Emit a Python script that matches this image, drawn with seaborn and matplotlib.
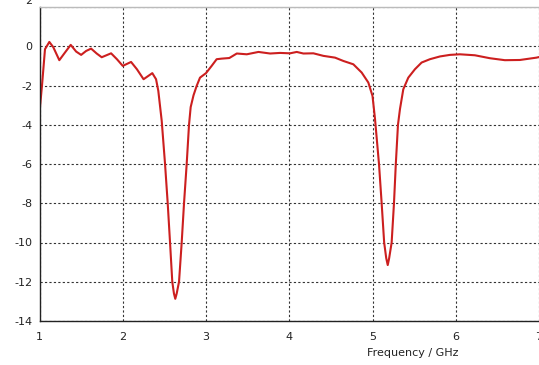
import matplotlib
matplotlib.use("Agg")
import matplotlib.pyplot as plt
import matplotlib.transforms as mtransforms
import seaborn as sns
import pandas as pd

freq_ghz = [1.00, 1.03, 1.066, 1.118, 1.166, 1.238, 1.306, 1.375, 1.44, 1.50, 1.56, 1.62,
            1.687, 1.747, 1.86, 1.93, 2.00, 2.10, 2.17, 2.25, 2.355, 2.40, 2.427, 2.468,
            2.508, 2.54, 2.568, 2.595, 2.615, 2.631, 2.648, 2.676, 2.708, 2.736, 2.768,
            2.796, 2.816, 2.85, 2.888, 2.928, 3.00, 3.068, 3.128, 3.19, 3.28, 3.37, 3.49,
            3.63, 3.77, 3.89, 4.01, 4.09, 4.17, 4.29, 4.41, 4.55, 4.65, 4.77, 4.87, 4.95,
            5.00, 5.03, 5.078, 5.11, 5.14, 5.165, 5.183, 5.20, 5.23, 5.258, 5.28, 5.306,
            5.33, 5.37, 5.43, 5.51, 5.59, 5.69, 5.81, 5.93, 6.05, 6.23, 6.41, 6.59, 6.77,
            6.97, 7.00]
s11_db = [-3.37, -2.0, -0.15, 0.22, -0.05, -0.71, -0.32, 0.07, -0.27, -0.44, -0.24, -0.12,
          -0.37, -0.56, -0.36, -0.66, -1.0, -0.8, -1.17, -1.68, -1.37, -1.68, -2.27, -3.8,
          -6.0, -8.0, -10.0, -12.0, -12.6, -12.87, -12.6, -12.0, -10.0, -8.0, -6.0,
          -4.0, -3.1, -2.5, -2.02, -1.6, -1.37, -1.0, -0.66, -0.63, -0.6, -0.37, -0.41,
          -0.29, -0.37, -0.34, -0.36, -0.29, -0.37, -0.36, -0.49, -0.58, -0.75, -0.92, -1.34,
          -1.85, -2.53, -3.7, -6.0, -8.0, -10.0, -10.8, -11.15, -10.8, -10.0, -8.0, -6.0,
          -4.0, -3.2, -2.19, -1.6, -1.17, -0.83, -0.66, -0.52, -0.44, -0.41, -0.46, -0.61,
          -0.71, -0.70, -0.58, -0.55]

x_ticks = [1, 2, 3, 4, 5, 6, 7]
y_ticks = [-14, -12, -10, -8, -6, -4, -2, 0, 2]

df = pd.DataFrame({"Frequency / GHz": freq_ghz, "S11": s11_db})

sns.set_style("white")
plt.rcParams["font.family"] = ["DejaVu Sans"]
plt.rcParams["axes.unicode_minus"] = False

fig = plt.figure(figsize=(5.39, 3.65), dpi=100)
ax = fig.add_axes([39.5 / 539, 44 / 365, (539 - 39.5) / 539, (321 - 7.0) / 365])

sns.lineplot(data=df, x="Frequency / GHz", y="S11", ax=ax, color="#cc1f1f",
             linewidth=1.5, estimator=None, sort=False)

ax.set_xlim(1, 7)
ax.set_ylim(-14, 2)
ax.set_xticks(x_ticks)
ax.set_yticks(y_ticks)
ax.set_xticklabels([str(t) for t in x_ticks])
ax.set_yticklabels([str(t) for t in y_ticks])
ax.tick_params(axis="both", which="both", direction="out", length=3, width=0.8,
               colors="#222222", labelsize=8, pad=2)
ax.tick_params(axis="x", pad=5)

# top "2" label sits partly above the image edge in the reference
top_lbl = ax.get_yticklabels()[-1]
top_lbl.set_transform(top_lbl.get_transform() +
                      mtransforms.ScaledTranslation(0, 7 / 100, fig.dpi_scale_trans))

ax.grid(True, color="#333333", linestyle=(0, (2, 2)), linewidth=0.8)
ax.set_axisbelow(True)

for side in ["left", "bottom"]:
    ax.spines[side].set_color("#222222")
    ax.spines[side].set_linewidth(1.0)
ax.spines["top"].set_color("#bbbbbb")
ax.spines["top"].set_linewidth(1.0)
ax.spines["right"].set_visible(False)

ax.set_ylabel("")
ax.set_xlabel("Frequency / GHz", fontsize=8, color="#222222")
ax.xaxis.set_label_coords(0.748, -0.085)

fig.savefig("out.png", dpi=100)
